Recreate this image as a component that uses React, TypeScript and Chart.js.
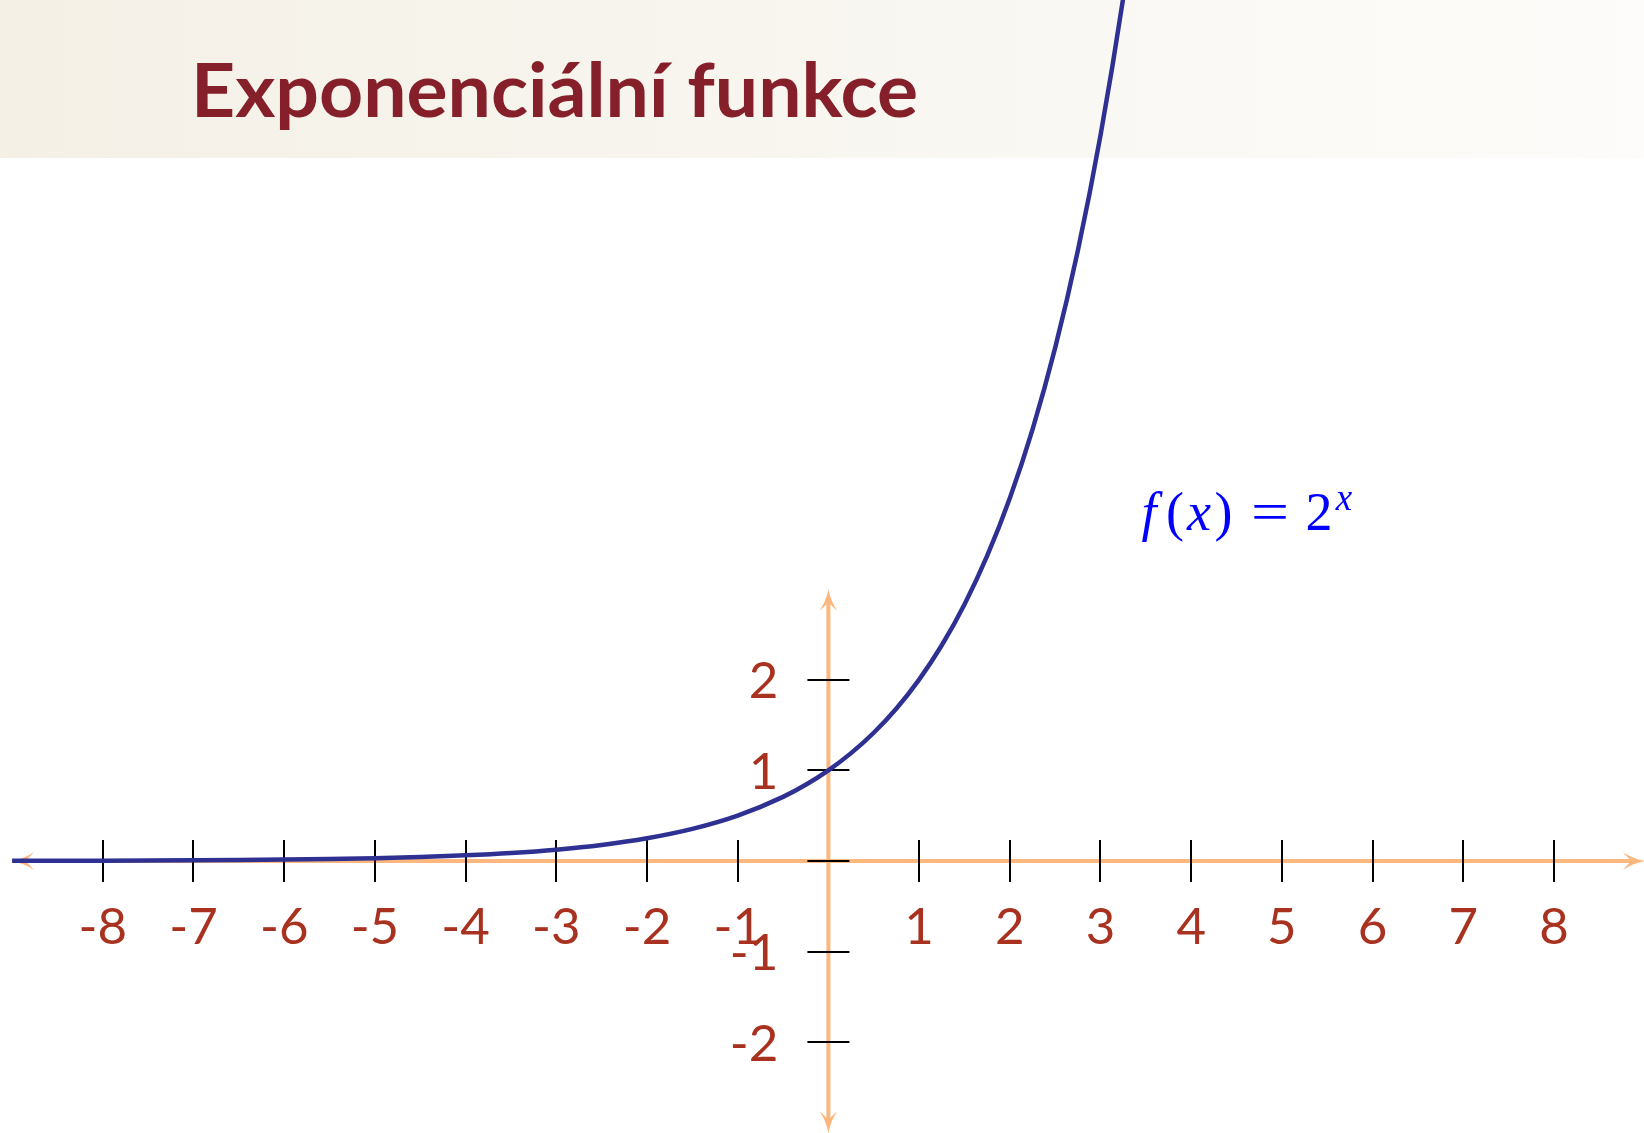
import { useEffect, useRef } from "react";
import { Chart, registerables } from "chart.js";

Chart.register(...registerables);

// Sampled points of f(x) = 2^x
const curveX = [
  -9, -8.5, -8, -7.5, -7, -6.5, -6, -5.5, -5, -4.5, -4, -3.5, -3, -2.5, -2, -1.5, -1, -0.5,
  -0.25, 0, 0.25, 0.5, 0.75, 1, 1.25, 1.5, 1.75, 2, 2.25, 2.5, 2.75, 3, 3.25, 3.5,
];
const curveY = [
  0.001953, 0.002762, 0.003906, 0.005524, 0.007813, 0.011049, 0.015625, 0.022097, 0.03125,
  0.044194, 0.0625, 0.088388, 0.125, 0.176777, 0.25, 0.353553, 0.5, 0.707107, 0.840896, 1,
  1.189207, 1.414214, 1.681793, 2, 2.378414, 2.828427, 3.363586, 4, 4.756828, 5.656854,
  6.727171, 8, 9.513657, 11.313708,
];

// Axis ticks and labels
const xTicks = [-8, -7, -6, -5, -4, -3, -2, -1, 1, 2, 3, 4, 5, 6, 7, 8];
const yTicks = [-2, -1, 0, 1, 2];
const yTickLabels = [-2, -1, 1, 2];
const axisExtentX = [-9, 9];
const axisExtentY = [-3, 3];

const titleText = "Exponenciální funkce";

// Visible window of the coordinate plane
const X_MIN = -9.1334;
const X_MAX = 8.9923;
const Y_MIN = -2.9989;
const Y_MAX = 9.4928;

const AXIS_COLOR = "#fbb77e";
const CURVE_COLOR = "#2e3192";
const LABEL_COLOR = "#a8311f";
const TITLE_COLOR = "#85202b";

function arrowHead(ctx: CanvasRenderingContext2D, tx: number, ty: number, dx: number, dy: number) {
  const L = 22;
  const W = 9;
  const nx = -dy;
  const ny = dx;
  ctx.beginPath();
  ctx.moveTo(tx, ty);
  ctx.quadraticCurveTo(tx - 0.55 * L * dx + 0.25 * W * nx, ty - 0.55 * L * dy + 0.25 * W * ny, tx - L * dx + W * nx, ty - L * dy + W * ny);
  ctx.lineTo(tx - 0.62 * L * dx, ty - 0.62 * L * dy);
  ctx.lineTo(tx - L * dx - W * nx, ty - L * dy - W * ny);
  ctx.quadraticCurveTo(tx - 0.55 * L * dx - 0.25 * W * nx, ty - 0.55 * L * dy - 0.25 * W * ny, tx, ty);
  ctx.closePath();
  ctx.fill();
}

const decorPlugin = {
  id: "planeDecor",
  beforeDraw(chart: any) {
    const { ctx, width } = chart;
    ctx.save();
    const g = ctx.createLinearGradient(0, 0, width, 0);
    g.addColorStop(0, "#f4f0e6");
    g.addColorStop(1, "#fdfcfa");
    ctx.fillStyle = g;
    ctx.fillRect(0, 0, width, 158);
    ctx.restore();
  },
  beforeDatasetsDraw(chart: any) {
    const { ctx } = chart;
    const xs = chart.scales.x;
    const ys = chart.scales.y;
    const ox = xs.getPixelForValue(0);
    const oy = ys.getPixelForValue(0);
    const xl = xs.getPixelForValue(axisExtentX[0]);
    const xr = xs.getPixelForValue(axisExtentX[1]);
    const yb = ys.getPixelForValue(axisExtentY[0]);
    const yt = ys.getPixelForValue(axisExtentY[1]);
    ctx.save();
    ctx.strokeStyle = AXIS_COLOR;
    ctx.fillStyle = AXIS_COLOR;
    ctx.lineWidth = 4;
    ctx.beginPath();
    ctx.moveTo(xl + 8, oy);
    ctx.lineTo(xr - 8, oy);
    ctx.moveTo(ox, yb - 8);
    ctx.lineTo(ox, yt + 8);
    ctx.stroke();
    arrowHead(ctx, xr, oy, 1, 0);
    arrowHead(ctx, xl, oy, -1, 0);
    arrowHead(ctx, ox, yt, 0, -1);
    arrowHead(ctx, ox, yb, 0, 1);

    ctx.strokeStyle = "#000000";
    ctx.lineWidth = 2;
    ctx.beginPath();
    for (const v of xTicks) {
      const px = Math.round(xs.getPixelForValue(v));
      ctx.moveTo(px, oy - 21);
      ctx.lineTo(px, oy + 21);
    }
    for (const v of yTicks) {
      const py = Math.round(ys.getPixelForValue(v));
      ctx.moveTo(ox - 21, py);
      ctx.lineTo(ox + 21, py);
    }
    ctx.stroke();
    ctx.restore();
  },
  afterDraw(chart: any) {
    const { ctx } = chart;
    const xs = chart.scales.x;
    const ys = chart.scales.y;
    const ox = xs.getPixelForValue(0);
    const oy = ys.getPixelForValue(0);
    ctx.save();

    // tick labels
    ctx.fillStyle = LABEL_COLOR;
    ctx.font = "51px Lato";
    ctx.textBaseline = "alphabetic";
    ctx.textAlign = "center";
    for (const v of xTicks) {
      ctx.fillText(String(v), xs.getPixelForValue(v), oy + 83);
    }
    ctx.textAlign = "right";
    for (const v of yTickLabels) {
      ctx.fillText(String(v), ox - 50, ys.getPixelForValue(v) + 18.5);
    }

    // function label f(x) = 2^x
    ctx.fillStyle = "#0000ff";
    ctx.textAlign = "center";
    const it = "italic 54px 'Liberation Serif'";
    const up = "54px 'Liberation Serif'";
    const pieces: [string, string, number, number, number][] = [
      ["f", it, 1149, 530, 1],
      ["(", up, 1175, 530, 1],
      ["x", it, 1199, 530, 1],
      [")", up, 1223.5, 530, 1],
      ["=", up, 1270, 530, 1.25],
      ["2", "54px 'Liberation Serif'", 1319, 530, 1],
      ["x", "italic 37px 'Liberation Serif'", 1344, 510, 1],
    ];
    for (const [t, f, x, y, sx] of pieces) {
      ctx.save();
      ctx.font = f;
      ctx.translate(x, y);
      ctx.scale(sx, 1);
      ctx.fillText(t, 0, 0);
      ctx.restore();
    }

    // title
    ctx.fillStyle = TITLE_COLOR;
    ctx.textAlign = "left";
    ctx.font = "bold 75px Lato";
    const w = ctx.measureText(titleText).width;
    const target = 727;
    ctx.translate(191, 117);
    ctx.scale(target / w, 1);
    ctx.fillText(titleText, 0, 0);
    ctx.restore();
  },
};

export default function App() {
  const canvasRef = useRef<HTMLCanvasElement | null>(null);

  useEffect(() => {
    document.body.style.margin = "0";
    const canvas = canvasRef.current;
    if (!canvas) return;
    const chart = new Chart(canvas, {
      type: "scatter",
      data: {
        datasets: [
          {
            data: curveX.map((x, i) => ({ x, y: curveY[i] })),
            showLine: true,
            borderColor: CURVE_COLOR,
            backgroundColor: CURVE_COLOR,
            borderWidth: 4.5,
            pointRadius: 0,
            cubicInterpolationMode: "monotone",
            fill: false,
          },
        ],
      },
      options: {
        animation: false,
        responsive: false,
        devicePixelRatio: 1,
        layout: { padding: 0 },
        plugins: {
          legend: { display: false },
          tooltip: { enabled: false },
          title: { display: false },
        },
        scales: {
          x: { type: "linear", min: X_MIN, max: X_MAX, display: false },
          y: { type: "linear", min: Y_MIN, max: Y_MAX, display: false },
        },
      },
      plugins: [decorPlugin],
    } as any);
    return () => chart.destroy();
  }, []);

  return (
    <div style={{ position: "fixed", left: 0, top: 0, width: 1644, height: 1133 }}>
      <canvas ref={canvasRef} width={1644} height={1133} style={{ display: "block" }} />
    </div>
  );
}
